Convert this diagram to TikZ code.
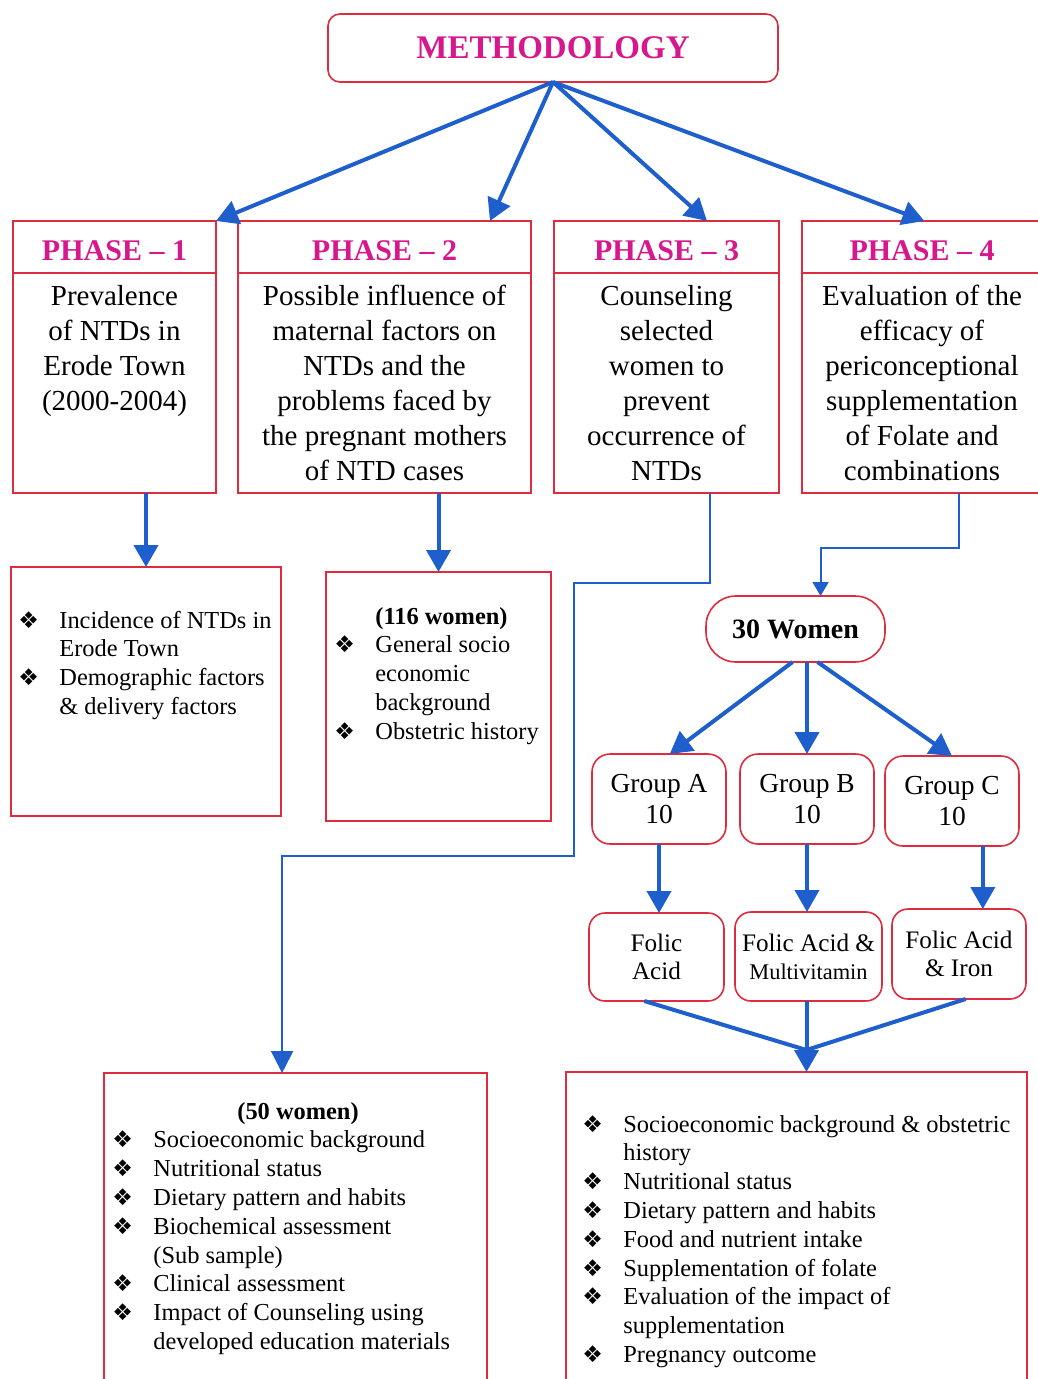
\documentclass[tikz,border=0pt]{standalone}
\usepackage{fontspec}
\setmainfont{Liberation Serif}
\newfontfamily\symfont{DejaVu Sans}
\usetikzlibrary{arrows.meta,calc,positioning}
\definecolor{boxred}{RGB}{222,44,62}
\definecolor{phasepink}{RGB}{214,24,140}
\definecolor{arrowblue}{RGB}{30,95,205}
\newcommand{\bul}{\makebox[20.5pt][l]{\symfont\fontsize{11.5}{11.5}\selectfont ❖}}
\newcommand{\listfont}{\fontsize{12.2}{14.4}\selectfont}

\begin{document}
\begin{tikzpicture}[x=0.5pt,y=-0.5pt]
\tikzstyle{every node}+=[inner sep=0pt]
\tikzstyle{redbox}=[draw=boxred,line width=0.8pt,outer sep=0pt]
\tikzstyle{headbox}=[redbox,minimum height=26pt,text height=14pt,text depth=0pt,font=\fontsize{15}{18}\selectfont\bfseries,text=phasepink]
\tikzstyle{bodybox}=[redbox,minimum height=110pt,align=center,font=\fontsize{14.5}{17.5}\selectfont]
\tikzstyle{roundbox}=[redbox,rounded corners=8pt,align=center]
\tikzstyle{listtext}=[anchor=base west,font=\listfont]
\tikzstyle{bigarrow}=[arrowblue,line width=2pt,-{Triangle[width=12pt,length=11pt]}]
\tikzstyle{thinarrow}=[arrowblue,line width=1pt,-{Triangle[width=10pt,length=10pt]}]
\useasboundingbox (0,0) rectangle (1037,1379);

\node[redbox,rounded corners=6pt,minimum width=225pt,minimum height=34pt,text=phasepink,font=\fontsize{16.5}{20}\selectfont\bfseries] (meth) at (553,48) {METHODOLOGY};

\node[headbox,minimum width=101.5pt] (ph1h) at (114.5,247) {PHASE -- 1};
\node[bodybox,minimum width=101.5pt,below=0pt of ph1h] (ph1b) {Prevalence\\of NTDs in\\Erode Town\\(2000-2004)\\\mbox{}\\\mbox{}};
\node[headbox,minimum width=146.5pt] (ph2h) at (384.5,247) {PHASE -- 2};
\node[bodybox,minimum width=146.5pt,below=0pt of ph2h] (ph2b) {Possible influence of\\maternal factors on\\NTDs and the\\problems faced by\\the pregnant mothers\\of NTD cases};
\node[headbox,minimum width=112.5pt] (ph3h) at (666.5,247) {PHASE -- 3};
\node[bodybox,minimum width=112.5pt,below=0pt of ph3h] (ph3b) {Counseling\\selected\\women to\\prevent\\occurrence of\\NTDs};
\node[headbox,minimum width=120pt] (ph4h) at (922,247) {PHASE -- 4};
\node[bodybox,minimum width=120pt,below=0pt of ph4h] (ph4b) {Evaluation of the\\efficacy of\\periconceptional\\supplementation\\of Folate and\\combinations};

\node[redbox,minimum width=135pt,minimum height=124.5pt] (box1) at (146,691.5) {};
\node[listtext] (list1) at (18,628) {\begin{tabular}[t]{@{}l@{}l@{}}
\bul & Incidence of NTDs in\\
 & Erode Town\\
\bul & Demographic factors\\
 & \& delivery factors
\end{tabular}};
\node[redbox,minimum width=112.5pt,minimum height=124.5pt] (box2) at (438.5,696.5) {};
\node[listtext] (list2) at (334,624) {\begin{tabular}[t]{@{}l@{}l@{}}
 & \textbf{(116 women)}\\
\bul & General socio\\
 & economic\\
 & background\\
\bul & Obstetric history
\end{tabular}};

\node[roundbox,rounded corners=15pt,minimum width=89.5pt,minimum height=33pt,font=\fontsize{14}{16}\selectfont\bfseries] (w30) at (795.5,629) {30 Women};
\node[roundbox,rounded corners=9pt,minimum width=67pt,minimum height=45pt,font=\fontsize{13.75}{15.5}\selectfont] (grpA) at (659,799) {Group A\\10};
\node[roundbox,rounded corners=9pt,minimum width=67pt,minimum height=45pt,font=\fontsize{13.75}{15.5}\selectfont] (grpB) at (807,799) {Group B\\10};
\node[roundbox,rounded corners=9pt,minimum width=67pt,minimum height=45pt,font=\fontsize{13.75}{15.5}\selectfont] (grpC) at (952,801) {Group C\\10};
\node[roundbox,minimum width=67.5pt,minimum height=44pt,font=\fontsize{12.6}{14}\selectfont] (folA) at (656.5,957) {Folic\\Acid};
\node[roundbox,minimum width=73.5pt,minimum height=44.5pt,font=\fontsize{12.6}{14}\selectfont] (folB) at (808.5,956.5) {Folic Acid \&\\{\fontsize{11.2}{14}\selectfont Multivitamin}};
\node[roundbox,minimum width=67pt,minimum height=45pt,font=\fontsize{12.6}{14}\selectfont] (folC) at (959,954) {Folic Acid\\\& Iron};

\node[redbox,minimum width=191.5pt,minimum height=158.5pt] (box3) at (295.5,1231.5) {};
\node[listtext] (list3) at (112,1119) {\begin{tabular}[t]{@{}l@{}l@{}}
\multicolumn{2}{@{}l@{}}{\hspace{62.5pt}\textbf{(50 women)}}\\
\bul & Socioeconomic background\\
\bul & Nutritional status\\
\bul & Dietary pattern and habits\\
\bul & Biochemical assessment\\
 & (Sub sample)\\
\bul & Clinical assessment\\
\bul & Impact of Counseling using\\
 & developed education materials
\end{tabular}};
\node[redbox,minimum width=230.5pt,minimum height=159pt] (box4) at (796.5,1231) {};
\node[listtext] (list4) at (582,1132) {\begin{tabular}[t]{@{}l@{}l@{}}
\bul & Socioeconomic background \& obstetric\\
 & history\\
\bul & Nutritional status\\
\bul & Dietary pattern and habits\\
\bul & Food and nutrient intake\\
\bul & Supplementation of folate\\
\bul & Evaluation of the impact of\\
 & supplementation\\
\bul & Pregnancy outcome
\end{tabular}};

\draw[bigarrow] (meth.south) -- (ph1h.north east);
\draw[bigarrow] (meth.south) -- ($(ph2h.north west)!0.86!(ph2h.north east)$);
\draw[bigarrow] (meth.south) -- ($(ph3h.north west)!0.68!(ph3h.north east)$);
\draw[bigarrow] (meth.south) -- ($(ph4h.north west)!0.51!(ph4h.north east)$);
\draw[bigarrow] (ph1b.south -| box1.north) -- (box1.north);
\draw[bigarrow] (ph2b.south -| box2.north) -- (box2.north);

\coordinate (p3out) at ($(ph3b.south west)!0.693!(ph3b.south east)$);
\coordinate (b3in) at ($(box3.north west)!0.465!(box3.north east)$);
\draw[thinarrow,-{Triangle[width=11pt,length=11pt]}] (p3out) -- ++(0,90) -| ++(-136,273) -| (b3in);
\coordinate (p4out) at ($(ph4b.south west)!0.654!(ph4b.south east)$);
\coordinate (w30in) at ($(w30.north west)!0.64!(w30.north east)$);
\draw[thinarrow,-{Triangle[width=8pt,length=7pt]}] (p4out) -- ++(0,55) -| (w30in);

\draw[bigarrow] ($(w30.south)+(-3,0)$) -- ($(grpA.north west)!0.58!(grpA.north east)$);
\draw[bigarrow] (w30.south -| grpB.north) -- (grpB.north);
\draw[bigarrow] ($(w30.south)+(22,0)$) -- (grpC.north);
\draw[bigarrow] (grpA.south) -- (grpA.south |- folA.north);
\draw[bigarrow] (grpB.south) -- (grpB.south |- folB.north);
\coordinate (gCout) at ($(grpC.south west)!0.73!(grpC.south east)$);
\draw[bigarrow] (gCout) -- (gCout |- folC.north);

\coordinate (join) at ($(folB.south)+(-2,49)$);
\draw[arrowblue,line width=2pt] ($(folA.south west)!0.41!(folA.south east)$) -- (join) -- ($(folC.south west)!0.55!(folC.south east)$);
\draw[bigarrow] (join |- folB.south) -- (join |- box4.north);
\end{tikzpicture}
\end{document}
